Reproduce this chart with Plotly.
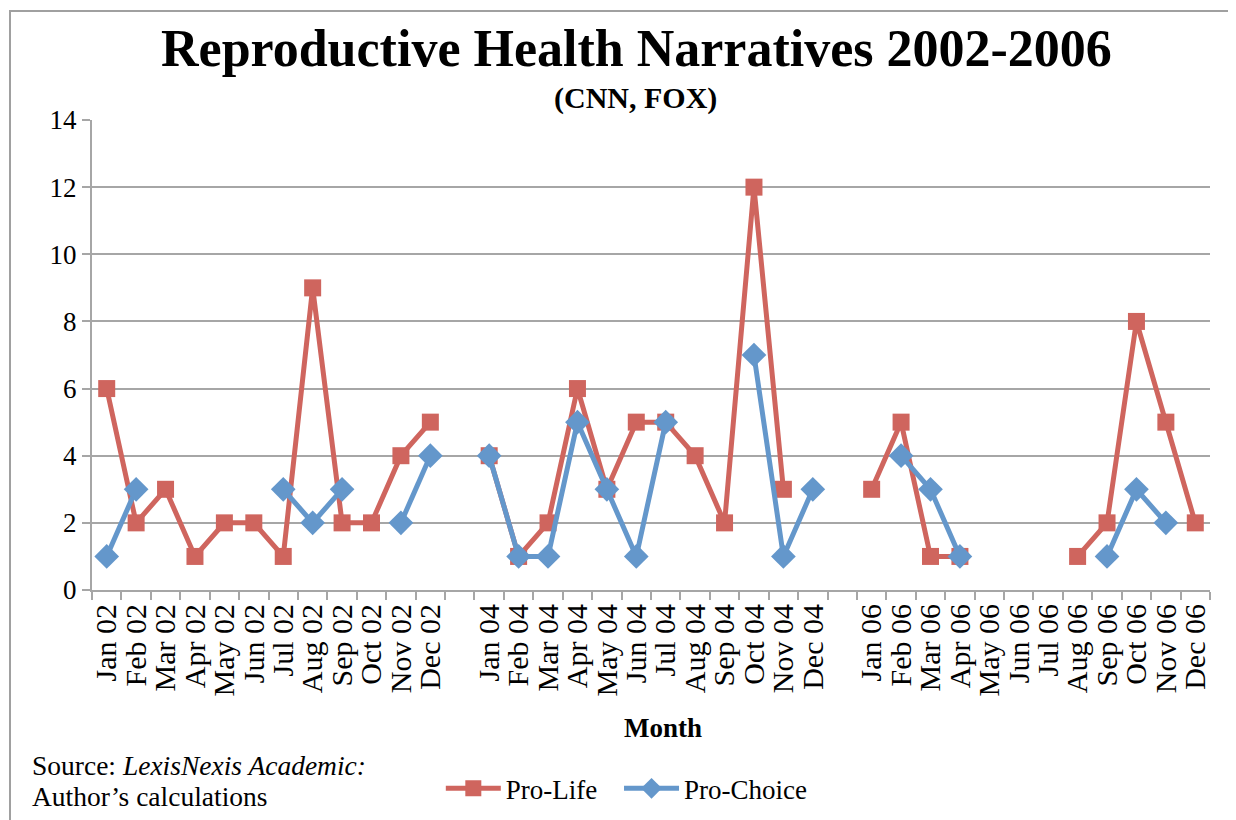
import plotly.graph_objects as go

months = ['Jan', 'Feb', 'Mar', 'Apr', 'May', 'Jun', 'Jul', 'Aug', 'Sep', 'Oct', 'Nov', 'Dec']
years = ['02', '04', '06']

pro_life_02 = [6, 2, 3, 1, 2, 2, 1, 9, 2, 2, 4, 5]
pro_choice_02 = [1, 3, None, None, None, None, 3, 2, 3, None, 2, 4]
pro_life_04 = [4, 1, 2, 6, 3, 5, 5, 4, 2, 12, 3, None]
pro_choice_04 = [4, 1, 1, 5, 3, 1, 5, None, None, 7, 1, 3]
pro_life_06 = [3, 5, 1, 1, None, None, None, 1, 2, 8, 5, 2]
pro_choice_06 = [None, 4, 3, 1, None, None, None, None, 1, 3, 2, None]

# one blank category between the years, like the Excel original
x = []
life = []
choice = []
for i, (yr, pl, pc) in enumerate(zip(years, [pro_life_02, pro_life_04, pro_life_06],
                                      [pro_choice_02, pro_choice_04, pro_choice_06])):
    if i > 0:
        x.append(' ' * i)
        life.append(None)
        choice.append(None)
    x += [f'{m} {yr}' for m in months]
    life += pl
    choice += pc

RED = '#CF655E'
BLUE = '#6497CB'
GRID = '#A6A6A6'
FONT = 'Liberation Serif'

fig = go.Figure()
fig.add_trace(go.Scatter(
    x=x, y=life, name='Pro-Life', mode='lines+markers',
    line=dict(color=RED, width=5),
    marker=dict(symbol='square', size=17, color=RED),
    connectgaps=False, legend='legend',
))
fig.add_trace(go.Scatter(
    x=x, y=choice, name='Pro-Choice', mode='lines+markers',
    line=dict(color=BLUE, width=5),
    marker=dict(symbol='diamond', size=19, color=BLUE),
    connectgaps=False, legend='legend2',
))

# the page body adds an 8px offset, so margins are 8px smaller than the target
leg = dict(orientation='h', xanchor='left', y=-0.423, yanchor='middle',
           font=dict(size=27), itemwidth=55, bgcolor='rgba(0,0,0,0)')
fig.update_layout(
    width=1236, height=820,
    margin=dict(l=84, r=34, t=112, b=238),
    paper_bgcolor='white', plot_bgcolor='white',
    font=dict(family=FONT, size=27, color='black'),
    showlegend=True,
    legend=dict(leg, x=0.312),
    legend2=dict(leg, x=0.4714),
)

fig.update_xaxes(
    type='category', categoryorder='array', categoryarray=x,
    tickmode='linear', tick0=0, dtick=1,
    tickson='boundaries', ticks='outside', ticklen=8, tickcolor=GRID, tickwidth=2,
    tickangle=-90, tickfont=dict(size=30),
    showline=True, linecolor=GRID, linewidth=2, showgrid=False,
    range=[-0.5, len(x) - 0.5], automargin=False,
)
fig.update_yaxes(
    range=[0, 14], dtick=2, tickfont=dict(size=27),
    showgrid=True, gridcolor=GRID, gridwidth=2,
    showline=True, linecolor=GRID, linewidth=2,
    ticks='outside', ticklen=8, tickcolor=GRID, tickwidth=2,
    zeroline=False, automargin=False,
)

fig.add_annotation(text='<b>Reproductive Health Narratives 2002-2006</b>',
                   xref='paper', yref='paper', x=0.487, y=1.152, xanchor='center', yanchor='middle',
                   showarrow=False, font=dict(size=52))
fig.add_annotation(text='<b>(CNN, FOX)</b>',
                   xref='paper', yref='paper', x=0.486, y=1.047, xanchor='center', yanchor='middle',
                   showarrow=False, font=dict(size=30))
fig.add_annotation(text='<b>Month</b>',
                   xref='paper', yref='paper', x=0.511, y=-0.294, xanchor='center', yanchor='middle',
                   showarrow=False, font=dict(size=27))
fig.add_annotation(text='Source: <i>LexisNexis Academic:</i>',
                   xref='paper', yref='paper', x=-0.0555, y=-0.374, xanchor='left', yanchor='middle',
                   showarrow=False, font=dict(size=27.5))
fig.add_annotation(text='Author’s calculations',
                   xref='paper', yref='paper', x=-0.0555, y=-0.440, xanchor='left', yanchor='middle',
                   showarrow=False, font=dict(size=27.5))

# chart-area border
fig.add_shape(type='rect', xref='paper', yref='paper',
              x0=(10 - 92) / 1118, x1=1.2, y0=-0.7, y1=(590 - 11) / 470,
              line=dict(color='#A0A0A0', width=2), layer='below')

fig.write_html('out.html')
